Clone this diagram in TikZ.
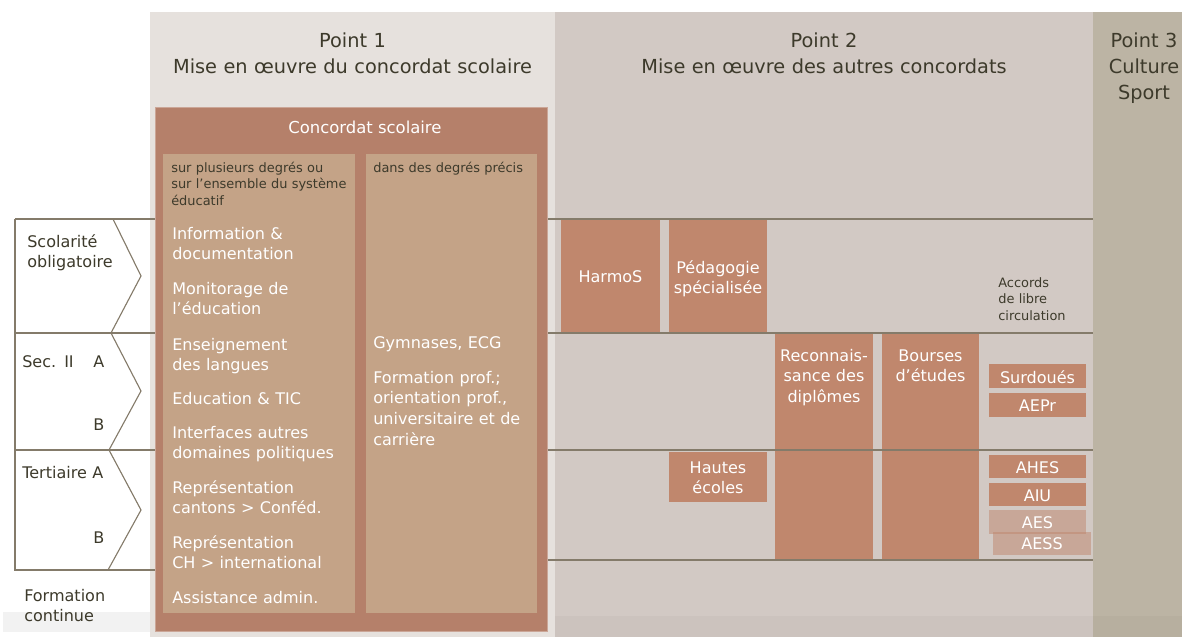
\documentclass[tikz,border=0pt]{standalone}
\usepackage{fontspec}
\setmainfont{DejaVu Sans}
\usetikzlibrary{positioning}
\definecolor{cColA}{HTML}{E6E1DD}
\definecolor{cColB}{HTML}{D2C9C4}
\definecolor{cColC}{HTML}{BCB4A4}
\definecolor{cConc}{HTML}{B5806A}
\definecolor{cSub}{HTML}{C4A387}
\definecolor{cBox}{HTML}{C0876D}
\definecolor{cRule}{HTML}{847B6A}
\definecolor{cInk}{HTML}{3D3A2B}

\begin{document}
\begin{tikzpicture}[x=0.025cm,y=-0.025cm,
  headtext/.style={text=cInk,font=\fontsize{13.75}{18.4}\selectfont,anchor=base,inner sep=0pt,text width=10cm,align=center},
  itemtext/.style={text=white,font=\fontsize{11.4}{14.9}\selectfont,anchor=base west,inner sep=0pt,text width=4.6cm,align=left},
  notetext/.style={text=cInk,font=\fontsize{9.2}{11.8}\selectfont,anchor=base west,inner sep=0pt,text width=4.6cm,align=left},
  gradetext/.style={text=cInk,font=\fontsize{11.4}{14.9}\selectfont,anchor=base west,inner sep=0pt,text width=3cm,align=left},
  boxtext/.style={text=white,font=\fontsize{11.4}{14.9}\selectfont,anchor=base,inner sep=0pt,text width=3cm,align=center},
  ruleline/.style={draw=cRule,line width=1.4pt},
  chevline/.style={draw=cRule,line width=0.8pt,line join=miter}]
\useasboundingbox (0,0) rectangle (1182,637);

%============================ COLUMNS ============================
\fill[cColA] (150,12) rectangle (555,637);
\fill[cColB] (555,12) rectangle (1093,637);
\fill[cColC] (1093,12) rectangle (1182,637);
\fill[black!5] (3,612) rectangle (150,632);
\fill[cInk,opacity=0.04] (555,616) rectangle (1182,637);

\node[headtext] (hdA) at (352.5,48) {Point 1\\Mise en œuvre du concordat scolaire};
\node[headtext] (hdB) at (824,48) {Point 2\\Mise en œuvre des autres concordats};
\node[headtext,text width=2.5cm] (hdC) at (1144,48) {Point 3\\Culture\\Sport};

%============================ POINT 2: other concordats ============================
\fill[cBox] (561,220) rectangle (660,332);
\fill[cBox] (669,220) rectangle (767,332);
\fill[cBox] (775,334) rectangle (873,560);
\fill[cBox] (882,334) rectangle (979,560);
\fill[cBox] (669,452) rectangle (767,502);
\foreach \ya/\yb in {364/388,393/417,455/478,483/506}
  \fill[cBox] (989,\ya) rectangle (1086,\yb);
\fill[cBox,fill opacity=0.5] (989,510) rectangle (1086,534);
\fill[cBox,fill opacity=0.5] (993,532) rectangle (1091,555);

\node[boxtext] (bxHarmos) at (610.5,282) {HarmoS};
\node[boxtext] (bxPeda) at (718,273) {Pédagogie\\spécialisée};
\node[boxtext] (bxRecon) at (824,361) {Reconnais-\\sance des\\diplômes};
\node[boxtext] (bxBourse) at (930.5,361) {Bourses\\d’études};
\node[boxtext] (bxHautes) at (718,473) {Hautes\\écoles};
\node[boxtext] (bxSurd) at (1037.5,383) {Surdoués};
\node[boxtext] (bxAepr) at (1037.5,411) {AEPr};
\node[boxtext] (bxAhes) at (1037.5,473) {AHES};
\node[boxtext] (bxAiu) at (1037.5,501) {AIU};
\node[boxtext] (bxAes) at (1037.5,528) {AES};
\node[boxtext] (bxAess) at (1042,549) {AESS};
\node[notetext,text width=3cm] (ntAccords) at (998,287) {Accords\\de libre\\circulation};

%============================ LEVELS (rows) ============================
\foreach \yy in {219,333,450}
  \draw[ruleline] (15,\yy) -- (1093,\yy);
\draw[ruleline] (547,560) -- (1093,560);
\draw[ruleline,line width=1pt] (15,219) -- (15,570) -- (155,570);
\draw[chevline] (113,219) -- (141,276) -- (111,333) -- (141,391) -- (109,450) -- (141,510) -- (108,570);

\node[gradetext] (lbScol) at (27,247) {Scolarité\\obligatoire};
\node[gradetext] (lbSec) at (22,367) {Sec. II};
\node[gradetext] (lbSecA) at (93,367) {A};
\node[gradetext] (lbSecB) at (93,430) {B};
\node[gradetext] (lbTer) at (22,478) {Tertiaire A};
\node[gradetext] (lbTerB) at (93,543) {B};
\node[gradetext] (lbForm) at (24,601) {Formation\\continue};

%============================ POINT 1: school concordat ============================
\fill[cConc,draw=cConc!70!white,line width=0.5pt] (155,107) rectangle (547,631);
\fill[cSub] (163,154) rectangle (355,613);
\fill[cSub] (366,154) rectangle (537,613);
\node[anchor=base west,inner sep=0pt,text=white,font=\fontsize{11.7}{14.9}\selectfont] (conc) at (288,133) {Concordat scolaire};

% --- across several levels ---
\node[notetext] (subA) at (171,172) {sur plusieurs degrés ou\\sur l’ensemble du système\\éducatif};
\node[itemtext] (itInfo) at (172,239) {Information \&\\documentation};
\node[itemtext] (itMonit) at (172,294) {Monitorage de\\l’éducation};
\node[itemtext] (itLang) at (172,350) {Enseignement\\des langues};
\node[itemtext] (itTic) at (172,404) {Education \& TIC};
\node[itemtext] (itIface) at (172,438) {Interfaces autres\\domaines politiques};
\node[itemtext] (itRepC) at (172,493) {Représentation\\cantons > Conféd.};
\node[itemtext] (itRepI) at (172,548) {Représentation\\CH > international};
\node[itemtext] (itAdmin) at (172,603) {Assistance admin.};

% --- in given levels ---
\node[notetext,text width=4cm] (subB) at (373,172) {dans des degrés précis};
\node[itemtext,text width=4cm] (itGym) at (373,348) {Gymnases, ECG};
\node[itemtext,text width=4cm] (itProf) at (373,383) {Formation prof.;\\orientation prof.,\\universitaire et de\\carrière};

\end{tikzpicture}
\end{document}
